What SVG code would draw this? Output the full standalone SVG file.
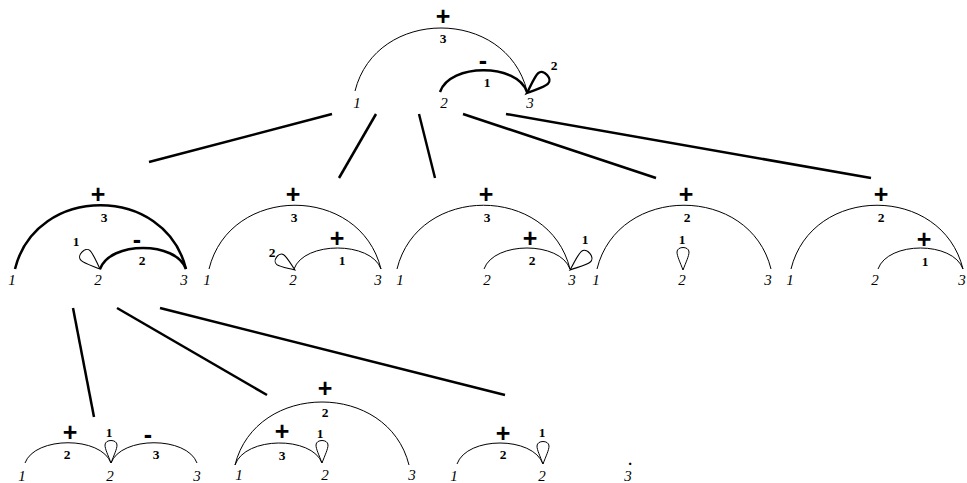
<svg xmlns="http://www.w3.org/2000/svg" width="967" height="483" viewBox="0 0 967 483">
<style>
.a{fill:none;stroke:#000;stroke-width:1}
.t{fill:none;stroke:#000;stroke-width:2.5}
.c{fill:none;stroke:#000;stroke-width:2.5;stroke-linecap:butt}
.lp{fill:#fff;stroke:#000;stroke-width:1}
.lpt{fill:#fff;stroke:#000;stroke-width:2}
.s{font-family:"Liberation Sans",Arial,sans-serif;font-weight:bold;font-size:25px;text-anchor:middle}
.n{font-family:"Liberation Serif","Times New Roman",serif;font-weight:bold;font-size:13.5px;text-anchor:middle}
.v{font-family:"Liberation Serif","Times New Roman",serif;font-style:italic;font-size:15px;text-anchor:middle}
.d{font-family:"Liberation Serif","Times New Roman",serif;font-weight:bold;font-size:15px;text-anchor:middle}
</style>
<defs>
<path id="loop" d="M0,0 C-3,-8 -6,-14 -6,-18 C-6,-24 6,-24 6,-18 C6,-14 3,-8 0,0 Z"/>
</defs>
<rect width="967" height="483" fill="#fff"/>
<g id="connectors">
<line class="c" x1="149" y1="162" x2="332" y2="114"/>
<line class="c" x1="339" y1="178" x2="376" y2="114"/>
<line class="c" x1="419" y1="114" x2="435" y2="178"/>
<line class="c" x1="463" y1="114" x2="656" y2="178"/>
<line class="c" x1="506" y1="114" x2="871" y2="178"/>
<line class="c" x1="73" y1="308" x2="94" y2="417"/>
<line class="c" x1="117" y1="308" x2="267" y2="395"/>
<line class="c" x1="160" y1="308" x2="505" y2="395"/>
</g>
<g id="root">
<path class="a" d="M355,91 C376,7 506,7 527,91"/>
<path class="t" d="M440,92 C450,63 517,63 527,92"/>
<use href="#loop" class="lpt" transform="translate(527,93) rotate(48) scale(1.2)"/>
<text class="s" x="443" y="25">+</text>
<text class="n" x="443" y="43">3</text>
<text class="s" x="483" y="69">-</text>
<text class="n" x="487" y="87">1</text>
<text class="n" x="554" y="70">2</text>
<text class="v" x="357" y="108">1</text>
<text class="v" x="444" y="108">2</text>
<text class="v" x="530" y="108">3</text>
</g>
<g id="child1">
<path class="t" d="M15,269 C36,184 165,184 186,269"/>
<path class="t" d="M100,269 C110,241 176,241 186,269"/>
<use href="#loop" class="lp" transform="translate(100,269) rotate(-47) scale(1.1)"/>
<text class="s" x="98" y="203">+</text>
<text class="n" x="104" y="222">3</text>
<text class="n" x="76" y="246">1</text>
<text class="s" x="137" y="248">-</text>
<text class="n" x="142" y="265">2</text>
<text class="v" x="12" y="285">1</text>
<text class="v" x="98" y="285">2</text>
<text class="v" x="184" y="285">3</text>
</g>
<g id="child2">
<path class="a" d="M209,269 C230,184 360,184 381,269"/>
<path class="a" d="M294,269 C304,241 371,241 381,269"/>
<use href="#loop" class="lp" transform="translate(295,270) rotate(-55) scale(1.0)"/>
<text class="s" x="293" y="203">+</text>
<text class="n" x="294" y="222">3</text>
<text class="n" x="272" y="257">2</text>
<text class="s" x="337" y="247">+</text>
<text class="n" x="342" y="265">1</text>
<text class="v" x="207" y="285">1</text>
<text class="v" x="293" y="285">2</text>
<text class="v" x="378" y="285">3</text>
</g>
<g id="child3">
<path class="a" d="M397,269 C418,184 549,184 570,269"/>
<path class="a" d="M484,269 C494,241 560,241 570,269"/>
<use href="#loop" class="lp" transform="translate(570,270) rotate(50) scale(1.15)"/>
<text class="s" x="486" y="203">+</text>
<text class="n" x="487" y="222">3</text>
<text class="s" x="530" y="247">+</text>
<text class="n" x="532" y="265">2</text>
<text class="n" x="585" y="244">1</text>
<text class="v" x="400" y="285">1</text>
<text class="v" x="487" y="285">2</text>
<text class="v" x="572" y="285">3</text>
</g>
<g id="child4">
<path class="a" d="M597,269 C618,184 750,184 771,269"/>
<use href="#loop" class="lp" transform="translate(683,270)"/>
<text class="s" x="686" y="203">+</text>
<text class="n" x="687" y="222">2</text>
<text class="n" x="682" y="244">1</text>
<text class="v" x="596" y="285">1</text>
<text class="v" x="682" y="285">2</text>
<text class="v" x="768" y="285">3</text>
</g>
<g id="child5">
<path class="a" d="M791,269 C812,184 942,184 963,269"/>
<path class="a" d="M878,269 C888,241 953,241 963,269"/>
<text class="s" x="881" y="203">+</text>
<text class="n" x="881" y="222">2</text>
<text class="s" x="924" y="248">+</text>
<text class="n" x="925" y="266">1</text>
<text class="v" x="790" y="285">1</text>
<text class="v" x="875" y="285">2</text>
<text class="v" x="962" y="285">3</text>
</g>
<g id="grandchild1">
<path class="a" d="M25,463 C35,436 101,436 111,463"/>
<path class="a" d="M111,463 C121,436 187,436 197,463"/>
<use href="#loop" class="lp" transform="translate(111,463)"/>
<text class="s" x="70" y="441">+</text>
<text class="n" x="67" y="459">2</text>
<text class="s" x="148" y="443">-</text>
<text class="n" x="156" y="459">3</text>
<text class="n" x="109" y="437">1</text>
<text class="v" x="22" y="481">1</text>
<text class="v" x="110" y="481">2</text>
<text class="v" x="197" y="481">3</text>
</g>
<g id="grandchild2">
<path class="a" d="M235,465 C256,381 388,381 409,465"/>
<path class="a" d="M235,465 C245,436 312,436 322,463"/>
<use href="#loop" class="lp" transform="translate(322,463)"/>
<text class="s" x="325" y="397">+</text>
<text class="n" x="325" y="417">2</text>
<text class="s" x="282" y="440">+</text>
<text class="n" x="282" y="460">3</text>
<text class="n" x="320" y="438">1</text>
<text class="v" x="239" y="480">1</text>
<text class="v" x="325" y="480">2</text>
<text class="v" x="412" y="480">3</text>
</g>
<g id="grandchild3">
<path class="a" d="M457,464 C467,436 533,436 543,464"/>
<use href="#loop" class="lp" transform="translate(543,464)"/>
<text class="s" x="503" y="442">+</text>
<text class="n" x="503" y="459">2</text>
<text class="n" x="542" y="437">1</text>
<text class="v" x="454" y="481">1</text>
<text class="v" x="542" y="481">2</text>
<text class="v" x="628" y="481">3</text>
<text class="d" x="630" y="465">.</text>
</g>
</svg>
